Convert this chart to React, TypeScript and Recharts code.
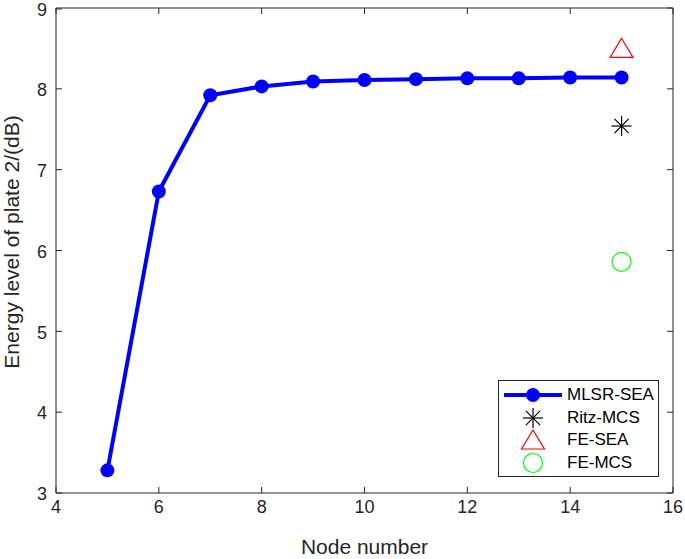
import React from "react";
import {
  ComposedChart,
  Line,
  Scatter,
  XAxis,
  YAxis,
} from "recharts";

const nodes = [5, 6, 7, 8, 9, 10, 11, 12, 13, 14, 15];
const mlsrSea = [3.28, 6.73, 7.92, 8.03, 8.09, 8.11, 8.12, 8.13, 8.13, 8.14, 8.14];
const ritzMcs = [{ x: 15, y: 7.54 }];
const feSea = [{ x: 15, y: 8.5 }];
const feMcs = [{ x: 15, y: 5.86 }];
const xTicks = [4, 6, 8, 10, 12, 14, 16];
const yTicks = [3, 4, 5, 6, 7, 8, 9];
const seriesNames = ["MLSR-SEA", "Ritz-MCS", "FE-SEA", "FE-MCS"];

const X_MIN = xTicks[0];
const X_MAX = xTicks[xTicks.length - 1];
const Y_MIN = yTicks[0];
const Y_MAX = yTicks[yTicks.length - 1];

const lineData = nodes.map((n, i) => ({ x: n, y: mlsrSea[i] }));

const FONT = "'Liberation Sans', Arial, Helvetica, sans-serif";
const AXIS = "#262626";

// chart box
const W = 685;
const H = 559;
const LEFT = 56;
const TOP = 8;
const RIGHT_M = 12;
const X_AXIS_H = 66;
const PLOT_R = W - RIGHT_M;
const PLOT_B = H - X_AXIS_H;

const BottomTick = (props: any) => {
  const { x, y, payload } = props;
  const ay = y - 6;
  return (
    <g>
      <line x1={x} x2={x} y1={ay} y2={ay - 6} stroke={AXIS} />
      <text x={x} y={y} dy="0.78em" textAnchor="middle" fill={AXIS} fontSize={18} fontFamily={FONT}>
        {payload.value}
      </text>
    </g>
  );
};

const LeftTick = (props: any) => {
  const { x, y, payload } = props;
  const ax = x + 9;
  return (
    <g>
      <line x1={ax} x2={ax + 6} y1={y} y2={y} stroke={AXIS} />
      <text x={x} y={y} dy="0.4em" textAnchor="end" fill={AXIS} fontSize={18} fontFamily={FONT}>
        {payload.value}
      </text>
    </g>
  );
};

// top and right edges of the box with inward ticks (MATLAB "box on")
const BoxEdges = () => {
  const px = (t: number) => LEFT + ((t - X_MIN) / (X_MAX - X_MIN)) * (PLOT_R - LEFT);
  const py = (t: number) => PLOT_B - ((t - Y_MIN) / (Y_MAX - Y_MIN)) * (PLOT_B - TOP);
  return (
    <svg
      width={W}
      height={H}
      style={{ position: "absolute", left: 0, top: 0, pointerEvents: "none" }}
    >
      <g stroke={AXIS} strokeWidth={1} fill="none">
        <line x1={LEFT} x2={PLOT_R} y1={TOP} y2={TOP} />
        <line x1={PLOT_R} x2={PLOT_R} y1={TOP} y2={PLOT_B} />
        {xTicks.map((t) => (
          <line key={`t${t}`} x1={px(t)} x2={px(t)} y1={TOP} y2={TOP + 6} />
        ))}
        {yTicks.map((t) => (
          <line key={`r${t}`} x1={PLOT_R} x2={PLOT_R - 6} y1={py(t)} y2={py(t)} />
        ))}
      </g>
    </svg>
  );
};

const Star = ({ cx, cy }: any) => {
  const r = 10;
  const d = r * 0.707;
  return (
    <g stroke="#000" strokeWidth={1.2}>
      <line x1={cx - r} x2={cx + r} y1={cy} y2={cy} />
      <line x1={cx} x2={cx} y1={cy - r} y2={cy + r} />
      <line x1={cx - d} x2={cx + d} y1={cy - d} y2={cy + d} />
      <line x1={cx - d} x2={cx + d} y1={cy + d} y2={cy - d} />
    </g>
  );
};

const Triangle = ({ cx, cy }: any) => (
  <polygon
    points={`${cx},${cy - 10} ${cx - 11.5},${cy + 9} ${cx + 11.5},${cy + 9}`}
    fill="none"
    stroke="#ff0000"
    strokeWidth={1.2}
  />
);

const Ring = ({ cx, cy }: any) => (
  <circle cx={cx} cy={cy} r={9.5} fill="none" stroke="#00ff00" strokeWidth={1.2} />
);

const legendIcons = [
  <svg width={58} height={22}>
    <line x1={0} x2={58} y1={11} y2={11} stroke="#0000ff" strokeWidth={4} />
    <circle cx={29} cy={11} r={7} fill="#0000ff" />
  </svg>,
  <svg width={58} height={22}><Star cx={29} cy={11} /></svg>,
  <svg width={58} height={22}><Triangle cx={29} cy={11} /></svg>,
  <svg width={58} height={22}><Ring cx={29} cy={11} /></svg>,
];

const LegendBox = () => (
  <div
    style={{
      position: "absolute",
      left: 498,
      top: 380,
      width: 161,
      height: 97,
      boxSizing: "border-box",
      border: `1px solid ${AXIS}`,
      background: "#fff",
      padding: "3px 0 0 5px",
      fontFamily: FONT,
      fontSize: 17,
      color: "#000",
    }}
  >
    {seriesNames.map((name, i) => (
      <div key={name} style={{ display: "flex", alignItems: "center", height: 22.5 }}>
        {legendIcons[i]}
        <span style={{ marginLeft: 5 }}>{name}</span>
      </div>
    ))}
  </div>
);

const YLabel = () => (
  <text
    x={19}
    y={242}
    transform="rotate(-90, 19, 242)"
    textAnchor="middle"
    fill={AXIS}
    fontSize={21}
    fontFamily={FONT}
  >
    Energy level of plate 2/(dB)
  </text>
);

export default function App() {
  return (
    <div style={{ position: "absolute", left: 0, top: 0, width: W, height: H, background: "#fff" }}>
      <ComposedChart width={W} height={H} margin={{ top: TOP, right: RIGHT_M, left: 0, bottom: 0 }}>
        <XAxis
          type="number"
          dataKey="x"
          domain={[X_MIN, X_MAX]}
          ticks={xTicks}
          height={X_AXIS_H}
          stroke={AXIS}
          tickLine={false}
          tickSize={0}
          tickMargin={6}
          tick={<BottomTick />}
          label={{
            value: "Node number",
            position: "insideBottom",
            offset: 5,
            fill: AXIS,
            fontSize: 21,
            fontFamily: FONT,
          }}
        />
        <YAxis
          type="number"
          dataKey="y"
          domain={[Y_MIN, Y_MAX]}
          ticks={yTicks}
          width={LEFT}
          stroke={AXIS}
          tickLine={false}
          tickSize={0}
          tickMargin={9}
          tick={<LeftTick />}
          label={<YLabel />}
        />
        <Line
          data={lineData}
          dataKey="y"
          name={seriesNames[0]}
          stroke="#0000ff"
          strokeWidth={4}
          dot={{ r: 7, fill: "#0000ff", stroke: "#0000ff", strokeWidth: 0 }}
          activeDot={false}
          isAnimationActive={false}
        />
        <Scatter data={ritzMcs} dataKey="y" name={seriesNames[1]} shape={<Star />} isAnimationActive={false} />
        <Scatter data={feSea} dataKey="y" name={seriesNames[2]} shape={<Triangle />} isAnimationActive={false} />
        <Scatter data={feMcs} dataKey="y" name={seriesNames[3]} shape={<Ring />} isAnimationActive={false} />
      </ComposedChart>
      <BoxEdges />
      <LegendBox />
    </div>
  );
}
